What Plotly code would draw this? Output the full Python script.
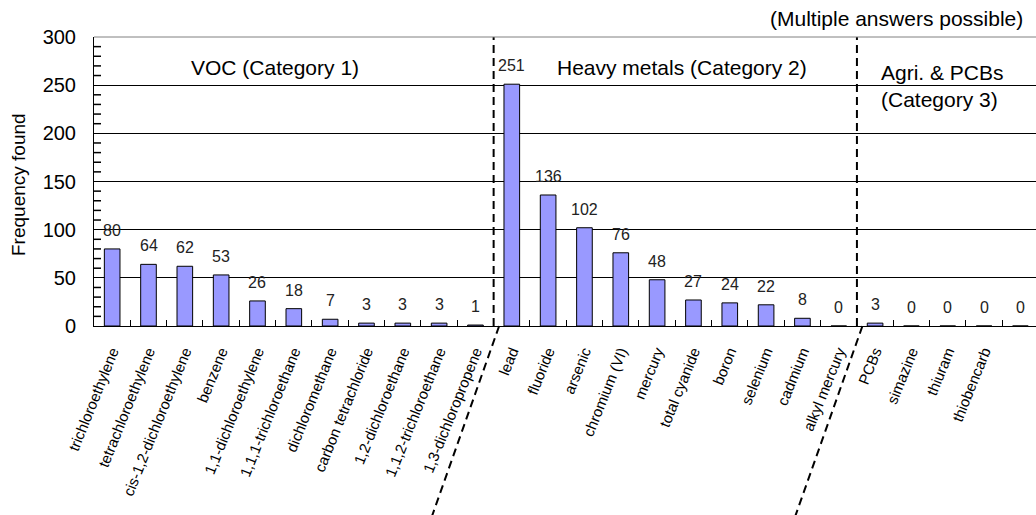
import plotly.graph_objects as go

# Substances found, grouped into three categories
voc_names = ["trichloroethylene", "tetrachloroethylene", "cis-1,2-dichloroethylene",
             "benzene", "1,1-dichloroethylene", "1,1,1-trichloroethane",
             "dichloromethane", "carbon tetrachloride", "1,2-dichloroethane",
             "1,1,2-trichloroethane", "1,3-dichloropropene"]
voc_counts = [80, 64, 62, 53, 26, 18, 7, 3, 3, 3, 1]

metal_names = ["lead", "fluoride", "arsenic", "chromium (VI)", "mercury",
               "total cyanide", "boron", "selenium", "cadmium", "alkyl mercury"]
metal_counts = [251, 136, 102, 76, 48, 27, 24, 22, 8, 0]

agri_names = ["PCBs", "simazine", "thiuram", "thiobencarb", " "]
agri_counts = [3, 0, 0, 0, 0]

y_ticks = [0, 50, 100, 150, 200, 250, 300]
y_minor_step = 10

names = voc_names + metal_names + agri_names
counts = voc_counts + metal_counts + agri_counts

# Page geometry
W, H = 1036, 515
ML, MR, MT, MB = 94, 0, 37, 189
plot_w = W - ML - MR
plot_h = H - MT - MB
pitch = 36.33                      # px per category
x_lo = -0.5
x_hi = x_lo + plot_w / pitch

FONT = "Liberation Sans, Arial, sans-serif"

fig = go.Figure()
fig.add_trace(go.Bar(
    x=names, y=counts,
    marker=dict(color="#9999FF", line=dict(color="black", width=1)),
    hoverinfo="x+y",
))

# Value labels above the bars
for n, c in zip(names, counts):
    fig.add_annotation(x=n, y=c, text=str(c), showarrow=False,
                       xref="x", yref="y", yanchor="bottom", yshift=8,
                       font=dict(family=FONT, size=16, color="#222"))


def to_paper(xv):
    return (xv - x_lo) / (x_hi - x_lo)


# Minor tick marks on the inside of the value axis
minor_len = 7 / plot_w
for v in range(y_ticks[0], y_ticks[-1], y_minor_step):
    if v in y_ticks:
        continue
    fig.add_shape(type="line", xref="paper", yref="y",
                  x0=0, x1=minor_len, y0=v, y1=v, layer="above",
                  line=dict(color="black", width=1.5))

# Category dividers: vertical dashed line in the plot, slanted below the axis
dash = "8px,5px"
for boundary in (len(voc_names) - 0.5, len(voc_names) + len(metal_names) - 0.5):
    bx = to_paper(boundary)
    fig.add_shape(type="line", xref="paper", yref="paper",
                  x0=bx, x1=bx, y0=0, y1=1,
                  line=dict(color="black", width=2, dash=dash))
    fig.add_shape(type="line", xref="paper", yref="paper",
                  xsizemode="pixel", xanchor=bx, ysizemode="pixel", yanchor=0,
                  x0=5.5, x1=-63, y0=0, y1=-194,
                  line=dict(color="black", width=2, dash=dash))

# Top border of the plot area
fig.add_shape(type="line", xref="paper", yref="paper", x0=0, x1=1, y0=1, y1=1,
              line=dict(color="#808080", width=1))

# Group headings
fig.add_annotation(xref="paper", yref="paper", x=(275 - ML) / plot_w,
                   y=(H - MB - 67.5) / plot_h, text="VOC (Category 1)",
                   showarrow=False, xanchor="center", yanchor="middle",
                   font=dict(family=FONT, size=21, color="black"))
fig.add_annotation(xref="paper", yref="paper", x=(682 - ML) / plot_w,
                   y=(H - MB - 67.5) / plot_h, text="Heavy metals (Category 2)",
                   showarrow=False, xanchor="center", yanchor="middle",
                   font=dict(family=FONT, size=21, color="black"))
fig.add_annotation(xref="paper", yref="paper", x=(879 - ML) / plot_w,
                   y=(H - MB - 86) / plot_h, text="Agri. & PCBs<br>(Category 3)",
                   showarrow=False, xanchor="left", yanchor="middle", align="left",
                   font=dict(family=FONT, size=21, color="black"))
fig.add_annotation(xref="paper", yref="paper", x=(1025 - ML) / plot_w,
                   y=(H - MB - 19) / plot_h, text="(Multiple answers possible)",
                   showarrow=False, xanchor="right", yanchor="middle",
                   font=dict(family=FONT, size=21, color="black"))

# Y axis title
fig.add_annotation(xref="paper", yref="paper", x=(18 - ML) / plot_w,
                   y=(H - MB - 185) / plot_h, text="Frequency found",
                   textangle=-90, showarrow=False,
                   xanchor="center", yanchor="middle",
                   font=dict(family=FONT, size=19, color="black"))

fig.update_layout(
    width=W, height=H,
    margin=dict(l=ML, r=MR, t=MT, b=MB, pad=0),
    paper_bgcolor="white", plot_bgcolor="white",
    bargap=0.57, showlegend=False,
    xaxis=dict(type="category", range=[x_lo, x_hi],
               showline=True, linecolor="black", linewidth=1,
               ticks="inside", ticklen=6, tickcolor="black", tickson="boundaries",
               tickangle=-68, showgrid=False, zeroline=False,
               ticklabelstandoff=10,
               tickfont=dict(family=FONT, size=15, color="black")),
    yaxis=dict(range=[y_ticks[0], y_ticks[-1]], tickmode="array", tickvals=y_ticks,
               showline=True, linecolor="black", linewidth=1,
               ticks="inside", ticklen=6, tickcolor="black",
               showgrid=True, gridcolor="black", gridwidth=1, zeroline=False,
               ticklabelstandoff=13,
               tickfont=dict(family=FONT, size=20, color="black")),
)

fig.write_html("out.html")
